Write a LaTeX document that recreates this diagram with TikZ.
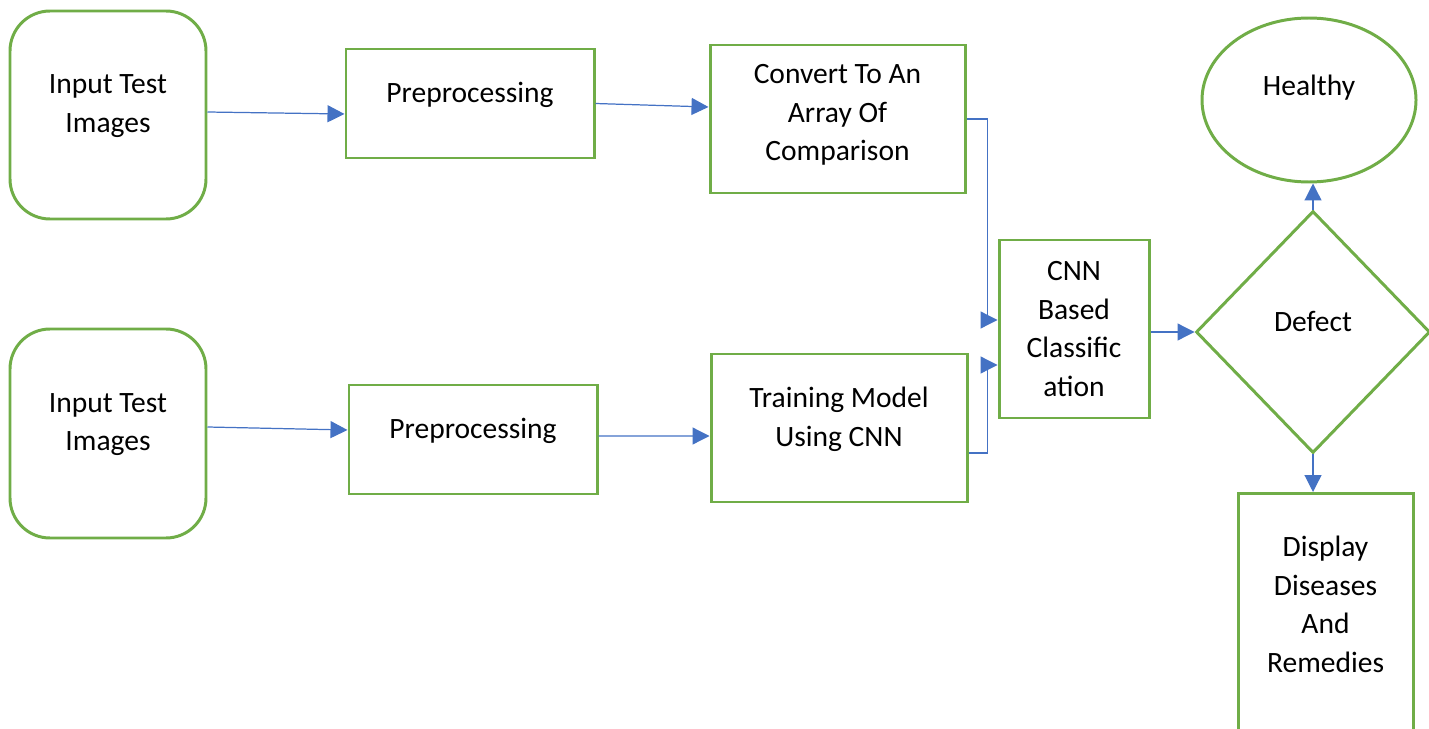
\documentclass[tikz,border=0pt]{standalone}
\usepackage{fontspec}
\setmainfont{Carlito}
\usetikzlibrary{arrows.meta,positioning,shapes.geometric}
\definecolor{flowgreen}{RGB}{112,173,71}
\definecolor{flowblue}{RGB}{68,114,196}

\begin{document}
\begin{tikzpicture}[
  box/.style={rectangle,draw=flowgreen,line width=1.7pt,fill=white,align=center,
    font=\fontsize{16.8}{21.9}\selectfont},
  inbox/.style={box,rounded corners=0.8cm,minimum width=3.92cm,minimum height=4.16cm,text depth=0.45cm},
  prebox/.style={box,minimum width=4.96cm,minimum height=2.18cm,text depth=0.45cm},
  stepbox/.style={box,minimum width=5.1cm,minimum height=2.96cm},
  endnode/.style={ellipse,draw=flowgreen,line width=1.7pt,align=center,
    minimum width=4.28cm,minimum height=3.28cm,font=\fontsize{16.8}{21.9}\selectfont},
  branch/.style={diamond,draw=flowgreen,line width=1.7pt,align=center,inner sep=0pt,
    minimum width=4.68cm,minimum height=4.84cm,font=\fontsize{16.8}{21.9}\selectfont},
  arr/.style={-{Triangle[length=0.34cm,width=0.34cm]},line width=0.7pt,draw=flowblue}
]
\useasboundingbox (0,0) rectangle (28.58,-14.58);

\node[inbox] (in1) at (2.16,-2.30) {Input Test\\Images};
\node[inbox,minimum height=4.18cm] (in2) at (2.16,-8.67) {Input Test\\Images};
\node[prebox] (pre1) at (9.40,-2.07) {Preprocessing};
\node[prebox] (pre2) at (9.46,-8.79) {Preprocessing};
\node[stepbox,text depth=0.25cm] (conv) at (16.75,-2.38) {Convert To An\\Array Of\\Comparison};
\node[stepbox,minimum width=5.12cm,text depth=0.45cm] (train) at (16.78,-8.56) {Training Model\\Using CNN};
\node[box,minimum width=3cm,minimum height=3.56cm] (cnn) at (21.48,-6.58) {CNN\\Based\\Classific\\ation};
\node[endnode,text depth=0.57cm] (healthy) at (26.18,-2.00) {Healthy};
\node[branch,text depth=0.44cm] (defect) at (26.26,-6.64) {Defect};
\node[box,anchor=north,minimum width=3.5cm,minimum height=5.2cm] (disp) at (26.51,-9.84)
  {Display\\Diseases\\And\\Remedies\\\mbox{}};

\draw[arr] ([yshift=0.06cm]in1.east) -- ([yshift=-0.21cm]pre1.west);
\draw[arr] (pre1.east) -- ([yshift=0.24cm]conv.west);
\draw[arr] ([yshift=0.13cm]in2.east) -- ([yshift=0.19cm]pre2.west);
\draw[arr] ([yshift=0.07cm]pre2.east) -- ([yshift=-0.16cm]train.west);
\draw[arr] (conv.east) -- ++(0.42,0) |- ([yshift=0.18cm]cnn.west);
\draw[arr] ([yshift=-0.5cm]train.east) -- ++(0.38,0) |- ([yshift=-0.72cm]cnn.west);
\draw[arr] ([yshift=-0.06cm]cnn.east) -- (defect.west);
\draw[arr] (defect.north) -- (defect.north |- healthy.south);
\draw[arr] (defect.south) -- (defect.south |- disp.north);
\end{tikzpicture}
\end{document}
